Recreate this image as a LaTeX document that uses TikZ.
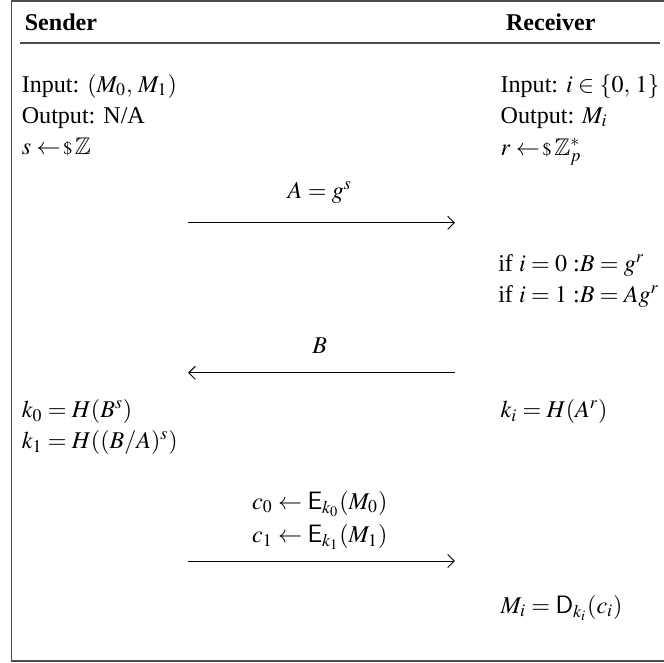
\documentclass[tikz,border=0pt]{standalone}
\usepackage{amssymb}
\usepackage{mathptmx}
\usepackage{fontspec}
\setmainfont{Liberation Serif}
\setsansfont{Liberation Sans}
\usetikzlibrary{arrows.meta,positioning}

\begin{document}
\begin{tikzpicture}[
  party/.style={anchor=west,inner sep=0pt,font=\fontsize{11.5}{13}\selectfont\bfseries},
  line/.style={anchor=west,inner sep=0pt,text height=1.6ex,text depth=0.5ex,
    font=\fontsize{11.5}{14}\selectfont},
  msglabel/.style={inner sep=0pt,text height=1.6ex,text depth=0.5ex,
    font=\fontsize{11.5}{14}\selectfont},
  msg/.style={-{Straight Barb[length=1.1mm,width=2.2mm]},line width=0.45pt},
  frame/.style={line width=0.7pt,black!70}
]
  \useasboundingbox (0,0) rectangle (11.15,-11.13);

  % frame and header rule
  \draw[frame] (11.15,-0.02) -- (0.19,-0.02) -- (0.19,-11.10) -- (11.15,-11.10);
  \draw[frame] (0.34,-0.72) -- (11.08,-0.72);

  % Sender
  \node[party] (sender) at (0.41,-0.38) {Sender};
  \node[line] (sin) at (0.36,-1.46) {Input: $(M_0,\, M_1)$};
  \node[line] (sout) at (0.36,-1.98) {Output: N/A};
  \node[line] (ssamp) at (0.36,-2.50) {$s \leftarrow\!{\scriptstyle\$}\,\mathbb{Z}$};
  \node[line] (kzero) at (0.36,-6.92) {$k_0 = H(B^s)$};
  \node[line] (kone) at (0.36,-7.44) {$k_1 = H((B/A)^s)$};

  % Receiver
  \node[party] (receiver) at (8.49,-0.38) {Receiver};
  \node[line] (rin) at (8.40,-1.46) {Input: $i \in \{0,\, 1\}$};
  \node[line] (rout) at (8.40,-1.98) {Output: $M_i$};
  \node[line] (rsamp) at (8.40,-2.52) {$r \leftarrow\!{\scriptstyle\$}\,\mathbb{Z}_p^*$};
  \node[line] (bzero) at (8.36,-4.47) {if $i = 0$ :$B = g^r$};
  \node[line] (bone) at (8.36,-4.99) {if $i = 1$ :$B = Ag^r$};
  \node[line] (ki) at (8.40,-6.92) {$k_i = H(A^r)$};
  \node[line] (mi) at (8.40,-10.21) {$M_i = \mathsf{D}_{k_i}(c_i)$};

  % messages
  \coordinate (m1s) at (3.16,-3.74);
  \coordinate (m1r) at (7.64,-3.74);
  \coordinate (m2s) at (3.16,-6.26);
  \coordinate (m2r) at (7.64,-6.26);
  \coordinate (m3s) at (3.16,-9.42);
  \coordinate (m3r) at (7.64,-9.42);

  \node[msglabel] (labA) at (5.37,-3.24) {$A = g^s$};
  \node[msglabel] (labB) at (5.37,-5.84) {$B$};
  \node[msglabel] (labczero) at (5.37,-8.46) {$c_0 \leftarrow \mathsf{E}_{k_0}(M_0)$};
  \node[msglabel] (labcone) at (5.37,-9.02) {$c_1 \leftarrow \mathsf{E}_{k_1}(M_1)$};

  \draw[msg] (m1s) -- (m1r);
  \draw[msg] (m2r) -- (m2s);
  \draw[msg] (m3s) -- (m3r);
\end{tikzpicture}
\end{document}
